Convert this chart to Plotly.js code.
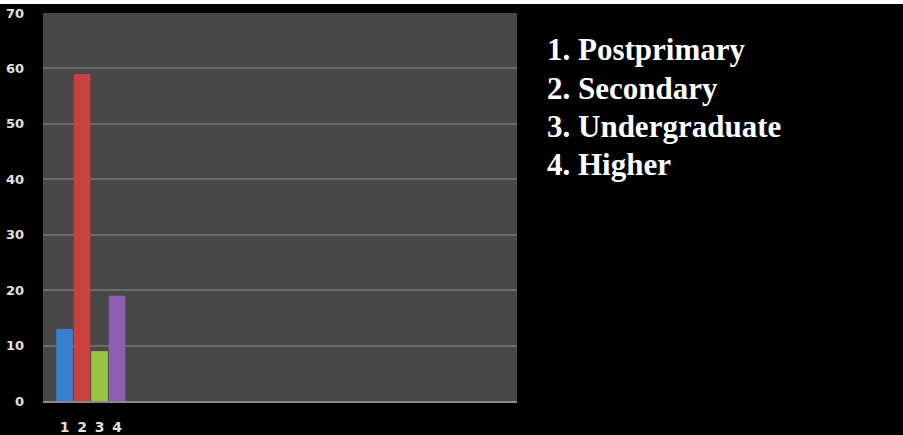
<!DOCTYPE html>
<html>
<head>
<meta charset="utf-8">
<script src="https://cdn.plot.ly/plotly-3.0.1.min.js"></script>
<style>
  html, body { margin: 0; padding: 0; background: #ffffff; overflow: hidden; }
  #chart { position: absolute; left: 0; top: 4px; width: 903px; height: 431px; background: #000; }
</style>
</head>
<body>
<div id="chart"></div>
<script>
// Data
const categoryNumbers = [1, 2, 3, 4];
const categoryNames = ["Postprimary", "Secondary", "Undergraduate", "Higher"];
const percentValues = [13, 59, 9, 19];
const barColors = ["#3a7fcb", "#c94040", "#9cc444", "#8b5fb3"];
const yTickValues = [0, 10, 20, 30, 40, 50, 60, 70];

const trace = {
  type: "bar",
  x: categoryNumbers,
  y: percentValues,
  marker: { color: barColors, line: { width: 0 } },
  width: 0.95,
  hoverinfo: "skip"
};

// Legend list drawn as text annotations
const annotations = categoryNames.map((name, i) => ({
  xref: "paper", yref: "paper",
  x: 1.059, y: 0.905 - i * 0.0985,
  xanchor: "left", yanchor: "middle",
  text: "<b>" + categoryNumbers[i] + ". " + name + "</b>",
  showarrow: false,
  font: { family: "Liberation Serif, Times New Roman, serif", size: 31, color: "#ffffff" }
}));

const layout = {
  width: 903, height: 431,
  margin: { l: 43, r: 386, t: 9, b: 34 },
  paper_bgcolor: "#000000",
  plot_bgcolor: "#484848",
  showlegend: false,
  bargap: 0.05,
  xaxis: {
    range: [-0.23, 26.86],
    tickvals: categoryNumbers,
    ticktext: categoryNumbers.map(v => "<b>" + v + "</b>"),
    showgrid: false,
    zeroline: false,
    showline: true,
    linecolor: "#8a8a8a",
    linewidth: 2,
    ticks: "",
    ticklabelstandoff: 12,
    tickfont: { family: "DejaVu Sans, sans-serif", size: 14, color: "#e2e2e2" }
  },
  yaxis: {
    range: [0, 70],
    tickvals: yTickValues,
    ticktext: yTickValues.map(v => "<b>" + v + "</b>"),
    showgrid: true,
    gridcolor: "#6c6c6c",
    gridwidth: 2,
    zeroline: false,
    showline: false,
    ticks: "",
    ticklabelstandoff: 18,
    tickfont: { family: "DejaVu Sans, sans-serif", size: 13, color: "#e2e2e2" }
  },
  annotations: annotations
};

Plotly.newPlot("chart", [trace], layout, { displayModeBar: false, staticPlot: true });
</script>
</body>
</html>
